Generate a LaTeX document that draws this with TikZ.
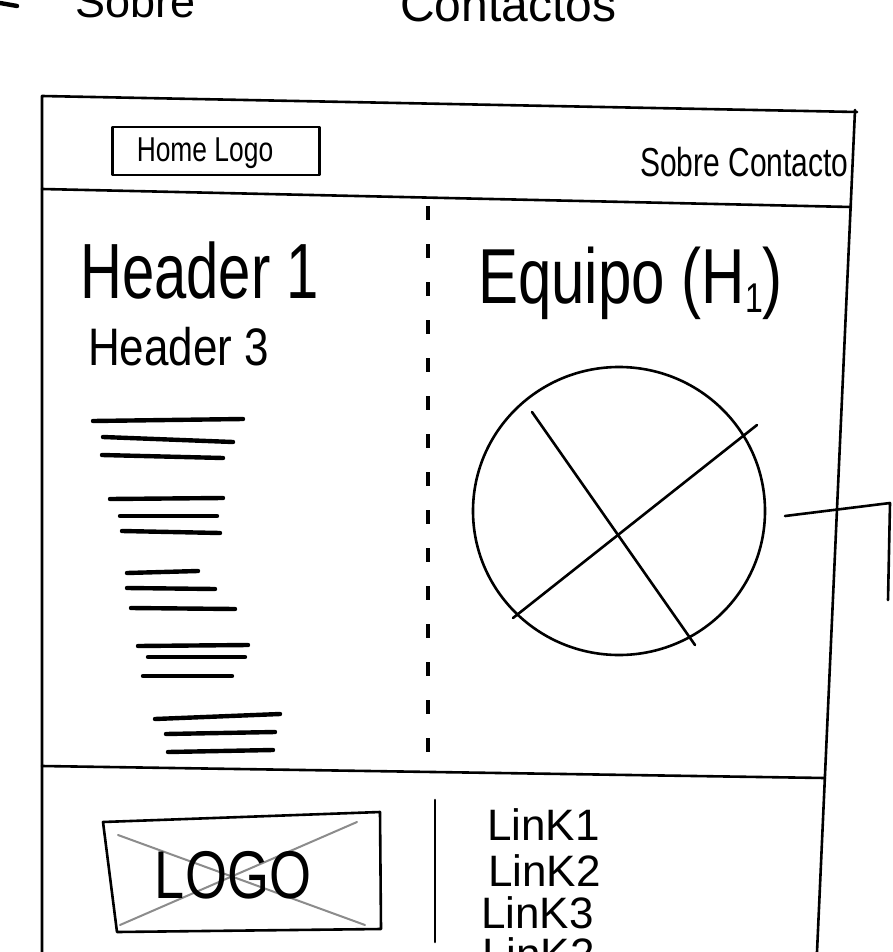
\documentclass[tikz,border=0pt]{standalone}
\usepackage{fontspec}
\setmainfont{Liberation Sans}
\begin{document}
\begin{tikzpicture}[x=1pt,y=-1pt,
  pen/.style={line width=2.6pt, line cap=round, line join=round},
  marker/.style={line width=4.4pt, line cap=round},
  pencil/.style={line width=2pt, black!45, line cap=round},
  hand/.style={inner sep=0pt, anchor=base west},
]
\useasboundingbox (0,0) rectangle (892,952);
\clip (0,0) rectangle (892,952);
\fill[white] (0,0) rectangle (892,952);

% menu labels at the top edge of the sheet
\coordinate (dashA) at (0,3);
\coordinate (dashB) at (17,6);
\draw[marker] (dashA) -- (dashB);
\node[hand, font=\fontsize{45}{50}\selectfont] (topsobre) at (75,18) {Sobre};
\node[hand, font=\fontsize{48}{50}\selectfont] (topcont) at (400,22) {Contactos};

% page frame
\coordinate (ftl) at (42,96);
\coordinate (ftr) at (857,112);
\coordinate (fbr) at (817,952);
\coordinate (fbl) at (42,952);
\draw[pen] (fbl) -- (ftl) -- (ftr);
\draw[pen] (855,110) -- (fbr);

% navigation bar
\coordinate (navL) at (42,189);
\coordinate (navR) at (851,207);
\draw[pen] (navL) -- (navR);
\node[draw, pen, minimum width=207pt, minimum height=48pt, inner sep=0pt] (homebox) at (216,151) {};
\node[xscale=0.88, yscale=1.15, font=\fontsize{30}{34}\selectfont] (homelabel) at (205,153) {Home Logo};
\node[hand, yscale=1.35, font=\fontsize{30}{34}\selectfont] (navlinks) at (640,177) {Sobre Contacto};

% column divider
\coordinate (divT) at (428,206);
\coordinate (divB) at (428,760);
\draw[line width=3.4pt, dash pattern=on 14pt off 24pt] (divT) -- (divB);

% left column: headings and text lines
\node[hand, yscale=1.35, font=\fontsize{58}{60}\selectfont] (h1) at (80,298) {Header 1};
\node[hand, yscale=1.2, font=\fontsize{44}{48}\selectfont] (h3) at (88,365) {Header 3};

\foreach \xa/\ya/\xb/\yb in {
  93/421/243/419, 103/437/233/442, 102/455/223/458,
  110/499/223/498, 120/516/217/516, 122/531/220/533,
  127/573/198/571, 127/588/215/589, 131/608/235/609,
  138/646/248/645, 148/657/245/657, 143/676/232/676,
  155/719/280/714, 166/734/275/732, 168/752/273/750}
  \draw[marker] (\xa,\ya) -- (\xb,\yb);

% right column: team heading and image placeholder
\node[hand, yscale=1.3, font=\fontsize{60}{64}\selectfont] (h1team) at (478,303)
  {Equipo (H\raisebox{-0.12em}{\fontsize{32}{32}\selectfont 1})};

\coordinate (team) at (619,511);
\draw[pen] (team) ellipse [x radius=146pt, y radius=144pt];
\coordinate (xa1) at (532,412);
\coordinate (xa2) at (695,645);
\coordinate (xb1) at (757,425);
\coordinate (xb2) at (513,618);
\draw[pen] (xa1) -- (xa2);
\draw[pen] (xb1) -- (xb2);

% side note leader
\coordinate (noteA) at (785,516);
\coordinate (noteB) at (890,503);
\coordinate (noteC) at (888,600);
\draw[pen] (noteA) -- (noteB) -- (noteC);

% footer
\coordinate (footL) at (42,766);
\coordinate (footR) at (825,778);
\draw[pen] (footL) -- (footR);
\coordinate (footT) at (435,800);
\coordinate (footB) at (435,942);
\draw[pen] (footT) -- (footB);

\coordinate (lg1) at (103,822);
\coordinate (lg2) at (380,812);
\coordinate (lg3) at (381,929);
\coordinate (lg4) at (117,932);
\draw[pencil] (118,835) -- (365,925);
\draw[pencil] (120,925) -- (357,822);
\draw[pen] (lg1) -- (lg2) -- (lg3) -- (lg4) -- cycle;
\node[yscale=1.25, font=\fontsize{54}{58}\selectfont] (logo) at (233,875) {LOGO};

\node[hand, font=\fontsize{44}{48}\selectfont] (link1) at (487,840) {LinK1};
\node[hand, font=\fontsize{44}{48}\selectfont] (link2) at (488,886) {LinK2};
\node[hand, font=\fontsize{44}{48}\selectfont] (link3) at (481,928) {LinK3};
\node[hand, font=\fontsize{44}{48}\selectfont] (link4) at (482,969) {LinK2};
\end{tikzpicture}
\end{document}
